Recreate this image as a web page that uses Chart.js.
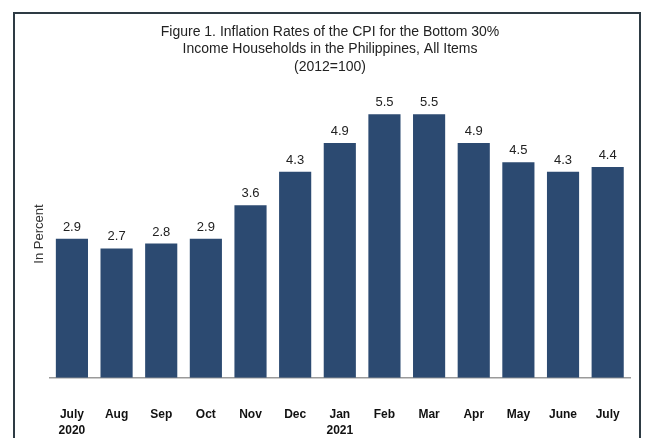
<!DOCTYPE html>
<html>
<head>
<meta charset="utf-8">
<script src="https://cdn.jsdelivr.net/npm/chart.js@4"></script>
<style>
  body { margin: 0; background: #fff; overflow: hidden; }
  #wrap { position: relative; width: 645px; height: 438px; }
  #frame { position: absolute; left: 13px; top: 12px; width: 624px; height: 500px; border: 2px solid #2e3b44; }
  canvas { position: absolute; left: 0; top: 0; }
</style>
</head>
<body>
<div id="wrap">
  <div id="frame"></div>
  <canvas id="canvas" width="645" height="438"></canvas>
</div>
<script>
const months = [['July', '2020'], 'Aug', 'Sep', 'Oct', 'Nov', 'Dec', ['Jan', '2021'], 'Feb', 'Mar', 'Apr', 'May', 'June', 'July'];
const rates = [2.9, 2.7, 2.8, 2.9, 3.6, 4.3, 4.9, 5.5, 5.5, 4.9, 4.5, 4.3, 4.4];
const titleLines = [
  'Figure 1. Inflation Rates of the CPI for the Bottom 30%',
  'Income Households in the Philippines, All Items',
  '(2012=100)'
];

// values above the bars
const valueLabels = {
  id: 'valueLabels',
  afterDatasetsDraw(chart) {
    const c = chart.ctx;
    const meta = chart.getDatasetMeta(0);
    c.save();
    c.font = '13px "Liberation Sans", Arial, sans-serif';
    c.fillStyle = '#222';
    c.textAlign = 'center';
    c.textBaseline = 'bottom';
    meta.data.forEach((bar, i) => {
      c.fillText(rates[i].toFixed(1), bar.x, bar.y - 5);
    });
    c.restore();
  }
};

const ctx = document.getElementById('canvas');
new Chart(ctx, {
  type: 'bar',
  data: {
    labels: months,
    datasets: [{
      data: rates,
      backgroundColor: '#2c4a71',
      barPercentage: 0.72,
      categoryPercentage: 1
    }]
  },
  options: {
    responsive: false,
    animation: false,
    layout: { padding: { left: 30, right: 15, top: 0, bottom: 0 } },
    plugins: {
      legend: { display: false },
      tooltip: { enabled: false },
      title: {
        display: true,
        text: titleLines,
        color: '#222',
        font: { family: '"Liberation Sans", Arial, sans-serif', size: 14, weight: 'normal', lineHeight: 1.22 },
        padding: { top: 24, bottom: 15 }
      }
    },
    scales: {
      x: {
        // hidden tick marks only used as spacing between axis line and labels
        grid: { display: false, drawTicks: true, tickLength: 29 },
        border: { display: true, color: '#9a9a9a', width: 1.5 },
        ticks: {
          color: '#111',
          padding: 0,
          maxRotation: 0,
          autoSkip: false,
          font: { family: '"Liberation Sans", Arial, sans-serif', size: 12, weight: 'bold', lineHeight: 1.3 }
        }
      },
      y: {
        min: 0,
        max: 6,
        grid: { display: false, drawTicks: false },
        border: { display: false },
        ticks: { display: false },
        title: {
          display: true,
          text: 'In Percent',
          color: '#333',
          padding: { top: 2, bottom: 2 },
          font: { family: '"Liberation Sans", Arial, sans-serif', size: 13 }
        }
      }
    }
  },
  plugins: [valueLabels]
});
</script>
</body>
</html>
